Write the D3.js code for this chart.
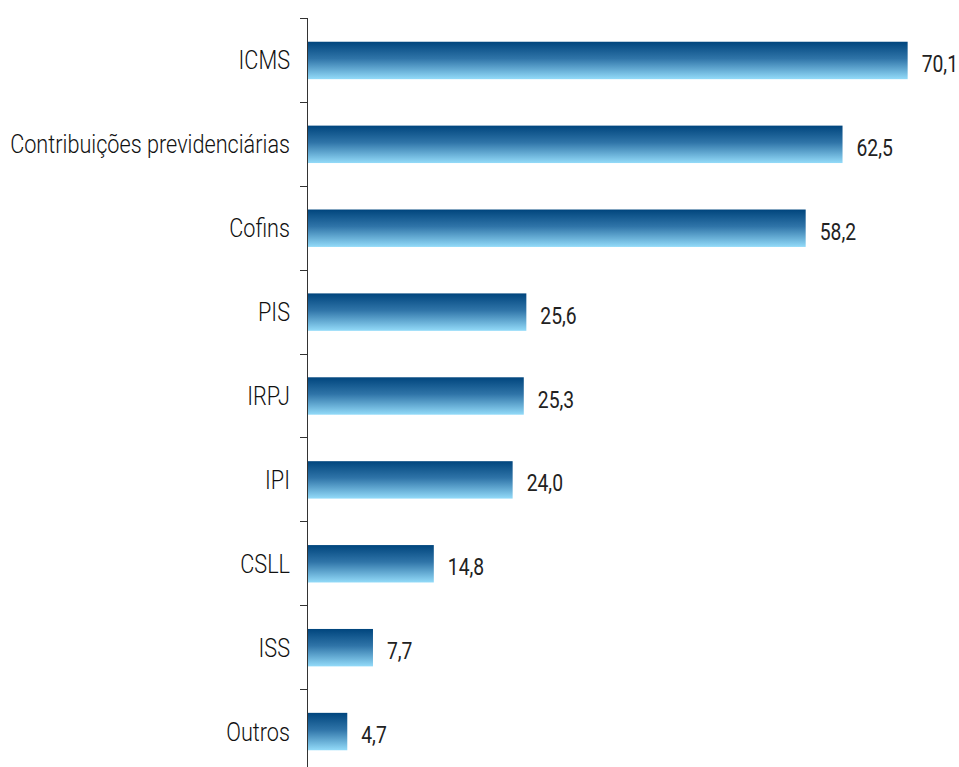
<!DOCTYPE html>
<html>
<head>
<meta charset="utf-8">
<script src="https://cdn.jsdelivr.net/npm/d3@7"></script>
<style>
  html, body { margin: 0; padding: 0; background: #fff; }
  svg { display: block; }
</style>
</head>
<body>
<svg id="chart" width="959" height="767"></svg>
<script>
// Tax collection by tribute
const categories = ["ICMS", "Contribuições previdenciárias", "Cofins", "PIS", "IRPJ", "IPI", "CSLL", "ISS", "Outros"];
const values = [70.1, 62.5, 58.2, 25.6, 25.3, 24.0, 14.8, 7.7, 4.7];

const svg = d3.select("#chart");
const fontFamily = "Roboto, 'DejaVu Sans Condensed', sans-serif";

const x = d3.scaleLinear().domain([0, 76]).range([307, 958.2]);
const y = d3.scaleBand().domain(categories).range([18.5, 773.5]).paddingInner(0.554).paddingOuter(0.277);
const yEdges = d3.scaleBand().domain(categories).range([18.5, 773.5]);

// Vertical gradient for the bars
const defs = svg.append("defs");
const grad = defs.append("linearGradient")
  .attr("id", "barGrad").attr("x1", 0).attr("y1", 0).attr("x2", 0).attr("y2", 1);
grad.append("stop").attr("offset", "0%").attr("stop-color", "#00457d");
grad.append("stop").attr("offset", "45%").attr("stop-color", "#2f74a8");
grad.append("stop").attr("offset", "100%").attr("stop-color", "#93dbf9");

const data = categories.map((c, i) => ({ cat: c, val: values[i] }));
const mid = d => y(d.cat) + y.bandwidth() / 2;

svg.append("g").selectAll("rect")
  .data(data).join("rect")
  .attr("x", x(0))
  .attr("y", d => y(d.cat))
  .attr("width", d => x(d.val) - x(0))
  .attr("height", y.bandwidth())
  .attr("fill", "url(#barGrad)");

// Axis line with ticks at category boundaries
const axisG = svg.append("g").attr("stroke", "#333").attr("stroke-width", 1);
axisG.append("line")
  .attr("x1", x(0) + 0.5).attr("x2", x(0) + 0.5)
  .attr("y1", 18).attr("y2", 767);
const edges = categories.map(c => yEdges(c));
axisG.selectAll("line.tick")
  .data(edges).join("line").attr("class", "tick")
  .attr("x1", x(0) - 7).attr("x2", x(0) + 0.5)
  .attr("y1", d => Math.floor(d) + 0.5).attr("y2", d => Math.floor(d) + 0.5);

// Category labels, horizontally condensed so the longest one fits the margin
const catG = svg.append("g");
const catText = catG.selectAll("text")
  .data(data).join("text")
  .attr("text-anchor", "end")
  .attr("font-family", fontFamily)
  .attr("font-weight", 300)
  .attr("font-size", 26)
  .attr("fill", "#111")
  .text(d => d.cat);
const longest = d3.max(catText.nodes(), n => n.getComputedTextLength());
const catScale = 280 / longest;
catText.attr("transform", d => `translate(290,${mid(d) + 9}) scale(${catScale},1)`);

// Value labels
svg.append("g").selectAll("text")
  .data(data).join("text")
  .attr("transform", d => `translate(${x(d.val) + 14},${mid(d) + 11.5}) scale(0.84,1)`)
  .attr("font-family", fontFamily)
  .attr("font-size", 23)
  .attr("fill", "#222")
  .text(d => d3.format(".1f")(d.val).replace(".", ","));
</script>
</body>
</html>
